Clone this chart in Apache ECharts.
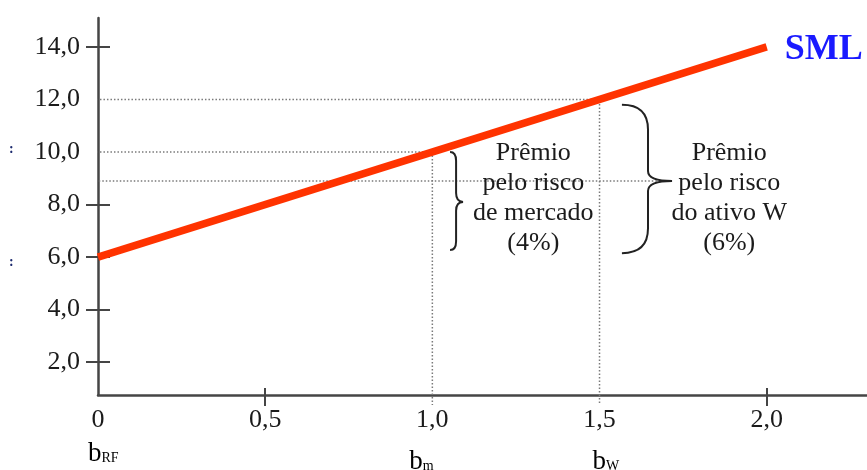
<!DOCTYPE html>
<html>
<head>
<meta charset="utf-8">
<script src="https://cdn.jsdelivr.net/npm/echarts@6/dist/echarts.min.js"></script>
<style>
html,body{margin:0;padding:0;background:#fff;}
#chart{width:867px;height:470px;}
</style>
</head>
<body>
<div id="chart"></div>
<script>
// ---- data ----
const xTickLabels = [0, 0.5, 1.0, 1.5, 2.0];
const xTickMarks = [0.5, 2.0];
const yTickLabels = [2, 4, 6, 8, 10, 12, 14];
const yTickMarks = [2, 4, 6, 8, 14];
const smlLine = [[0, 6], [2, 14]];
const guide12 = [[-0.036, 12], [1.5, 12], [1.5, 0.37]];
const guide10 = [[-0.036, 10], [1.0, 10], [1.0, 0.37]];
const guideBrace = [[-0.05, 8.9], [1.71, 8.9]];
// braces: [xLeft, xStem, xTip, yTop, yTip, yBottom]
const braces = [[1.053, 1.071, 1.092, 10.0, 8.1, 6.27], [1.567, 1.645, 1.717, 11.8, 8.9, 6.15]];
const annoPos = [[1.302, 8.25], [1.888, 8.25]];
const annoText = ['Prêmio\npelo risco\nde mercado\n(4%)', 'Prêmio\npelo risco\ndo ativo W\n(6%)'];
const betaX = [0, 1.0, 1.5];
const betaSub = ['RF', 'm', 'W'];

// ---- layout/style ----
const FONT = '"Liberation Serif", "DejaVu Serif", serif';
const TXT = '#1b1b1b';
const AX = '#454545';
const BETA_DX = [-10, -23, -7];
const BETA_DY = [59, 67, 67];

const fmt = v => (v === 0 ? '0' : v.toFixed(1).replace('.', ','));

const chart = echarts.init(document.getElementById('chart'), null, {renderer: 'canvas'});

const dotted = {color: '#7a7a7a', width: 1.5, type: [1.5, 2]};

chart.setOption({
  animation: false,
  backgroundColor: '#fff',
  grid: {left: 98, top: 18, right: 0, bottom: 75, containLabel: false},
  xAxis: [
    {
      type: 'value', min: 0, max: 2.3,
      axisLine: {show: true, lineStyle: {color: AX, width: 2.5}},
      axisTick: {show: true, inside: false, length: 11, customValues: xTickMarks, lineStyle: {color: AX, width: 2}},
      axisLabel: {show: true, customValues: xTickLabels, formatter: fmt, margin: 12,
        color: TXT, fontSize: 26, fontFamily: FONT},
      splitLine: {show: false}
    },
    {
      type: 'value', min: 0, max: 2.3, position: 'bottom', offset: 0,
      axisLine: {show: false},
      axisTick: {show: true, inside: true, length: 7, customValues: xTickMarks, lineStyle: {color: AX, width: 2}},
      axisLabel: {show: false},
      splitLine: {show: false}
    }
  ],
  yAxis: [
    {
      type: 'value', min: 0.75, max: 15.1,
      axisLine: {show: true, lineStyle: {color: AX, width: 2.5}},
      axisTick: {show: true, inside: false, length: 12, customValues: yTickMarks, lineStyle: {color: AX, width: 2}},
      axisLabel: {show: true, customValues: yTickLabels, formatter: fmt, margin: 18,
        color: TXT, fontSize: 26, fontFamily: FONT, padding: [10, 0, 0, 0]},
      splitLine: {show: false}
    },
    {
      type: 'value', min: 0.75, max: 15.1, position: 'left', offset: 0,
      axisLine: {show: false},
      axisTick: {show: true, inside: true, length: 12, customValues: yTickMarks, lineStyle: {color: AX, width: 2}},
      axisLabel: {show: false},
      splitLine: {show: false}
    }
  ],
  graphic: [
    {type: 'text', left: 9, top: 142, style: {text: ':', fill: '#1c2a6e', font: 'bold 14px ' + FONT}},
    {type: 'text', left: 9, top: 255, style: {text: ':', fill: '#1c2a6e', font: 'bold 14px ' + FONT}}
  ],
  series: [
    {type: 'line', data: guide12, symbol: 'none', clip: false, lineStyle: dotted, silent: true, z: 1},
    {type: 'line', data: guide10, symbol: 'none', clip: false, lineStyle: dotted, silent: true, z: 1},
    {type: 'line', data: guideBrace, symbol: 'none', clip: false, lineStyle: dotted, silent: true, z: 1},
    {
      type: 'line', name: 'SML', data: smlLine, symbol: 'none', clip: false, z: 5,
      lineStyle: {color: '#ff3300', width: 7.5, cap: 'butt'},
      endLabel: {show: true, formatter: 'SML', distance: 18, offset: [0, 3],
        color: '#1a1aff', fontWeight: 'bold', fontSize: 36, fontFamily: FONT}
    },
    {
      type: 'custom', clip: false, z: 4, silent: true,
      data: braces,
      renderItem: function (params, api) {
        const top = api.coord([api.value(0), api.value(3)]);
        const stemTop = api.coord([api.value(1), api.value(3)]);
        const tip = api.coord([api.value(2), api.value(4)]);
        const bot = api.coord([api.value(0), api.value(5)]);
        const xl = top[0], xv = stemTop[0], xt = tip[0];
        const yt = top[1], ym = tip[1], yb = bot[1];
        const r = (xv - xl) * 0.8 + 4;
        const rt = Math.min(r, 10);
        const d = 'M' + xl + ',' + yt +
          ' Q' + xv + ',' + yt + ' ' + xv + ',' + (yt + r) +
          ' L' + xv + ',' + (ym - rt) +
          ' Q' + xv + ',' + ym + ' ' + xt + ',' + ym +
          ' Q' + xv + ',' + ym + ' ' + xv + ',' + (ym + rt) +
          ' L' + xv + ',' + (yb - r) +
          ' Q' + xv + ',' + yb + ' ' + xl + ',' + yb;
        return {type: 'path', shape: {pathData: d}, style: {stroke: '#222', lineWidth: 2, fill: null}};
      }
    },
    {
      type: 'custom', clip: false, z: 6, silent: true,
      data: annoPos,
      renderItem: function (params, api) {
        const p = api.coord([api.value(0), api.value(1)]);
        return {type: 'text', x: p[0], y: p[1], style: {
          text: annoText[params.dataIndex], fill: TXT, font: '26px ' + FONT,
          align: 'center', verticalAlign: 'middle', lineHeight: 30}};
      }
    },
    {
      type: 'custom', clip: false, z: 6, silent: true,
      data: betaX.map(v => [v, 0.75]),
      renderItem: function (params, api) {
        const i = params.dataIndex;
        const p = api.coord([api.value(0), api.value(1)]);
        return {type: 'text', x: p[0] + BETA_DX[i], y: p[1] + BETA_DY[i], style: {
          text: '{b|b}{s|' + betaSub[i] + '}', align: 'left', verticalAlign: 'middle',
          rich: {
            b: {fontSize: 27, fontFamily: FONT, color: TXT, verticalAlign: 'bottom'},
            s: {fontSize: 14, fontFamily: FONT, color: TXT, verticalAlign: 'bottom', padding: [0, 0, 2, 0]}
          }}};
      }
    }
  ]
});
</script>
</body>
</html>
